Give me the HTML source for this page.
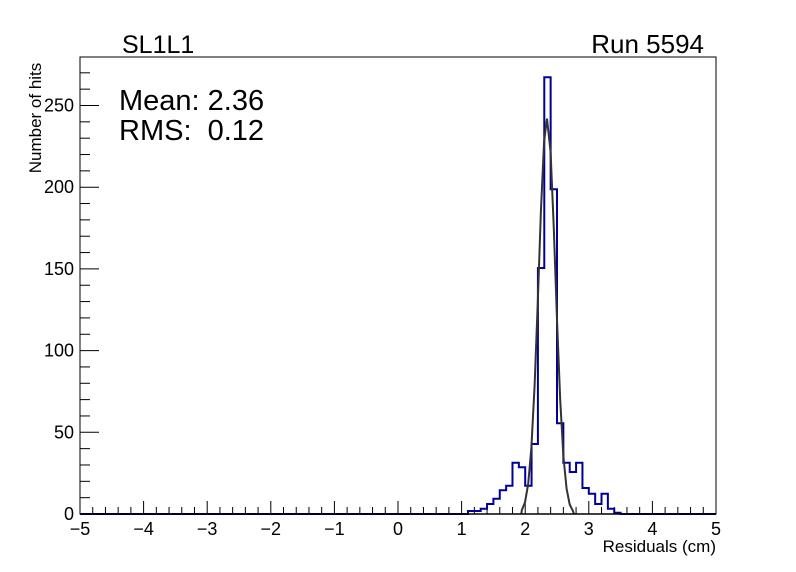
<!DOCTYPE html>
<html><head><meta charset="utf-8"><style>
html,body{margin:0;padding:0;background:#fff;}
svg{display:block;font-family:"Liberation Sans",sans-serif;}
text{white-space:pre;}
</style></head><body>
<svg id="s" width="796" height="572" viewBox="0 0 796 572" xmlns="http://www.w3.org/2000/svg" xml:space="preserve">
<rect x="0" y="0" width="796" height="572" fill="#fff"/>
<rect x="80" y="57" width="636" height="457" fill="none" stroke="#000" stroke-width="1"/>
<g id="ticks" stroke="#000" stroke-width="1"></g>
<polyline fill="none" stroke="#000099" stroke-width="2" points="80,514 467.96,514 467.96,511 474.32,511 474.32,511 480.68,511 480.68,508.7 487.04,508.7 487.04,504 493.4,504 493.4,498.7 499.76,498.7 499.76,490.3 506.12,490.3 506.12,485.7 512.48,485.7 512.48,462.7 518.84,462.7 518.84,467.3 525.2,467.3 525.2,485.7 531.56,485.7 531.56,444 537.92,444 537.92,268 544.28,268 544.28,77.3 550.64,77.3 550.64,189.3 557,189.3 557,423.3 563.36,423.3 563.36,462.7 569.72,462.7 569.72,472 576.08,472 576.08,462.7 582.44,462.7 582.44,488 588.8,488 588.8,493.7 595.16,493.7 595.16,504 601.52,504 601.52,493.7 607.88,493.7 607.88,508.7 614.24,508.7 614.24,512.7 620.6,512.7 620.6,514 716,514"/>
<polyline fill="none" stroke="#333" stroke-width="2" points="521.3,514 521.8,510.1 525,502.3 528.2,483.9 531.4,447.2 534.6,385.6 537.8,301.6 540.9,211.2 544.1,141.4 547,118.6 550.6,152.2 553.8,228.5 557,319.9 560.2,399.8 563.4,456.3 566.6,488.8 569.7,504.5 572.9,510.9 574,514"/>
<line x1="80" y1="514" x2="716" y2="514" stroke="#000" stroke-width="1.5"/>
<g font-size="18" fill="#000" text-anchor="end" id="ylab"></g>
<g font-size="18" fill="#000" text-anchor="middle" id="xlab"></g>
<text x="122" y="53" font-size="25">SL1L1</text>
<text x="704" y="53" font-size="26" text-anchor="end">Run 5594</text>
<text x="119" y="110" font-size="29">Mean: 2.36</text>
<text x="119" y="140" font-size="29">RMS:  0.12</text>
<text x="716" y="552" font-size="17" text-anchor="end">Residuals (cm)</text>
<text transform="translate(41,118) rotate(-90)" font-size="17" text-anchor="middle">Number of hits</text>
</svg>
<script>
var NS="http://www.w3.org/2000/svg",t=document.getElementById("ticks"),yl=document.getElementById("ylab"),xl=document.getElementById("xlab");
function L(a,b,c,d){var l=document.createElementNS(NS,"line");l.setAttribute("x1",a);l.setAttribute("y1",b);l.setAttribute("x2",c);l.setAttribute("y2",d);t.appendChild(l);}
function T(g,x,y,s){var e=document.createElementNS(NS,"text");e.setAttribute("x",x);e.setAttribute("y",y);e.textContent=s;g.appendChild(e);}
for(var n=0;n<=270;n+=10){var y=514-n*1.634;L(80,y,n%50==0?99:90,y);if(n%50==0)T(yl,74,y+6,n);}
for(var i=0;i<=50;i++){var v=-5+i*0.2,x=80+(v+5)*63.6;L(x,514,x,i%5==0?501:507);if(i%5==0){var k=Math.round(v);T(xl,x,535,k<0?"\u2212"+(-k):""+k);}}
</script>
</body></html>
